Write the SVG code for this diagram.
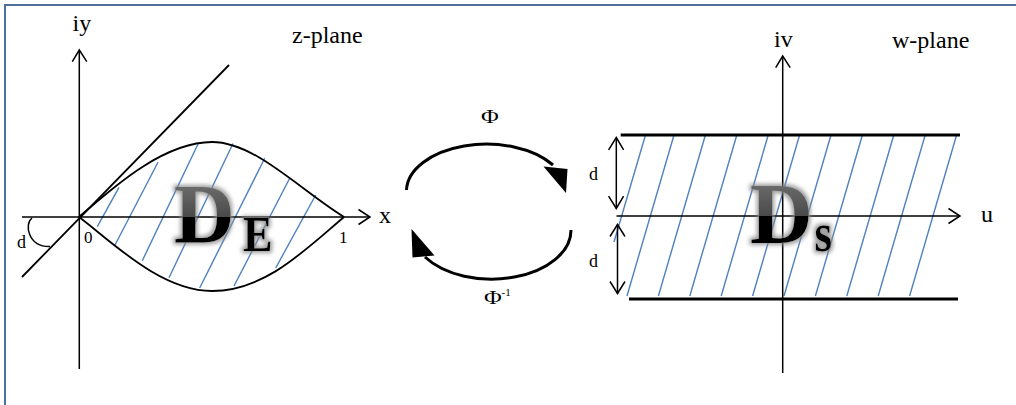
<svg xmlns="http://www.w3.org/2000/svg" width="1016" height="405" viewBox="0 0 1016 405">
<style>
  .ax { stroke:#000; stroke-width:1.5; fill:none; }
  .cv { stroke:#000; stroke-width:1.8; fill:none; }
  .st { stroke:#000; stroke-width:2.8; fill:none; }
  .ht { stroke:#4F81BD; stroke-width:1.4; fill:none; }
  .lb { font-family:"Liberation Serif","Times New Roman",serif; fill:#000; }
  .big { font-family:"Liberation Serif","Times New Roman",serif; font-weight:bold; }
  .map { stroke:#000; stroke-width:3; fill:none; }
</style>
<defs>
  <filter id="glow" x="-30%" y="-30%" width="160%" height="160%">
    <feMorphology in="SourceAlpha" operator="dilate" radius="1.5" result="d"/>
    <feGaussianBlur in="d" stdDeviation="2.2" result="b"/>
    <feFlood flood-color="#8a8a8a" flood-opacity="0.85"/>
    <feComposite in2="b" operator="in" result="g"/>
    <feMerge><feMergeNode in="g"/><feMergeNode in="SourceGraphic"/></feMerge>
  </filter>
  <linearGradient id="gE" gradientUnits="userSpaceOnUse" x1="0" y1="187" x2="0" y2="252">
    <stop offset="0" stop-color="#6a6a6a"/>
    <stop offset="0.46" stop-color="#4a4a4a"/>
    <stop offset="0.46" stop-color="#000"/>
    <stop offset="1" stop-color="#000"/>
  </linearGradient>
  <linearGradient id="gS" gradientUnits="userSpaceOnUse" x1="0" y1="185" x2="0" y2="252">
    <stop offset="0" stop-color="#6a6a6a"/>
    <stop offset="0.46" stop-color="#4a4a4a"/>
    <stop offset="0.46" stop-color="#000"/>
    <stop offset="1" stop-color="#000"/>
  </linearGradient>
</defs>

<rect x="0" y="0" width="1016" height="405" fill="#fff"/>
<path d="M5,410 L5,5 L1020,5" stroke="#4F6E9A" stroke-width="2" fill="none"/>

<g id="z-plane">
  <g>
    <line class="ht" x1="97.3" y1="226.7" x2="119" y2="187.3"/>
    <line class="ht" x1="115" y1="245" x2="158" y2="162.3"/>
    <line class="ht" x1="142.3" y1="260.7" x2="198" y2="144"/>
    <line class="ht" x1="169" y1="277.7" x2="233" y2="143.5"/>
    <line class="ht" x1="199.7" y1="288" x2="264.7" y2="158.3"/>
    <line class="ht" x1="234" y1="286" x2="289.7" y2="178.3"/>
    <line class="ht" x1="275.7" y1="268" x2="315.7" y2="195"/>
  </g>
  <line class="ax" x1="79.3" y1="369" x2="79.3" y2="50"/>
  <polyline class="ax" points="72.3,61.7 79.3,50 86.8,61.7"/>
  <line class="ax" x1="22" y1="217" x2="370" y2="217"/>
  <polyline class="ax" points="358.5,209.5 370,217 358.5,224.5"/>
  <line class="cv" x1="22" y1="277" x2="229" y2="65"/>
  <path class="cv" d="M79,217 C105,195 160,142 212,142 C255,142 300,190 344,217"/>
  <path class="cv" d="M79,217 C110,240 160,291 212,291 C265,291 305,250 344,217"/>
  <path class="ax" d="M32,218 C24,224 28,247 50,246.5"/>
  <text class="lb" x="72.5" y="31" font-size="24">iy</text>
  <text class="lb" x="292" y="43" font-size="24">z-plane</text>
  <text class="lb" x="379" y="223" font-size="24">x</text>
  <text class="lb" x="84" y="243" font-size="17">0</text>
  <text class="lb" x="339" y="243" font-size="17">1</text>
  <text class="lb" x="17" y="248" font-size="18">d</text>
  <g filter="url(#glow)" fill="url(#gE)">
    <text class="big" x="174" y="243" font-size="84">D</text>
    <text class="big" x="243" y="251" font-size="51" textLength="29.5" lengthAdjust="spacingAndGlyphs">E</text>
  </g>
</g>

<g id="w-plane">
  <g>
    <line class="ht" x1="614" y1="242" x2="645.5" y2="135"/>
    <line class="ht" x1="627" y1="296" x2="674" y2="135"/>
    <line class="ht" x1="658.4" y1="296" x2="705.4" y2="135"/>
    <line class="ht" x1="689.8" y1="296" x2="736.8" y2="135"/>
    <line class="ht" x1="721.2" y1="296" x2="768.2" y2="135"/>
    <line class="ht" x1="752.6" y1="296" x2="799.6" y2="135"/>
    <line class="ht" x1="784" y1="296" x2="831" y2="135"/>
    <line class="ht" x1="815.4" y1="296" x2="862.4" y2="135"/>
    <line class="ht" x1="846.8" y1="296" x2="893.8" y2="135"/>
    <line class="ht" x1="878.2" y1="296" x2="925.2" y2="135"/>
    <line class="ht" x1="909.6" y1="296" x2="956.6" y2="135"/>
  </g>
  <line class="st" x1="620.7" y1="135" x2="960" y2="135"/>
  <line class="st" x1="629" y1="299" x2="958" y2="299"/>
  <line class="ax" x1="616.5" y1="216" x2="960" y2="216"/>
  <polyline class="ax" points="948.5,208.5 960,216 948.5,223.5"/>
  <line class="ax" x1="782.7" y1="373" x2="782.7" y2="56"/>
  <polyline class="ax" points="775.7,67.7 782.7,56 790.2,67.7"/>
  <line class="ax" x1="616.3" y1="137.5" x2="616.3" y2="208.5"/>
  <polyline class="ax" points="608.6,149.8 616.3,137.5 623.6,149.8"/>
  <polyline class="ax" points="608.6,196.2 616.3,208.5 623.6,196.2"/>
  <line class="ax" x1="617.5" y1="224.5" x2="617.5" y2="293.5"/>
  <polyline class="ax" points="610,236.5 617.5,224.5 625,236.5"/>
  <polyline class="ax" points="610,281.5 617.5,293.5 625,281.5"/>
  <text class="lb" x="589" y="180" font-size="18">d</text>
  <text class="lb" x="589" y="267" font-size="18">d</text>
  <text class="lb" x="774" y="47" font-size="24">iv</text>
  <text class="lb" x="892" y="48" font-size="24">w-plane</text>
  <text class="lb" x="981" y="222" font-size="24">u</text>
  <g filter="url(#glow)" fill="url(#gS)">
    <text class="big" x="750" y="243.3" font-size="87">D</text>
    <text class="big" x="814.5" y="251" font-size="54" textLength="17.5" lengthAdjust="spacingAndGlyphs">s</text>
  </g>
</g>

<g id="connectors">
  <path class="map" d="M406.5,190 A80,47 0 0 1 553,165"/>
  <polygon points="543.5,166.5 567.5,169 566,193" fill="#000"/>
  <path class="map" d="M571,230 A79.5,49 0 0 1 425,257"/>
  <polygon points="411.5,229 412.5,257.5 434.5,255.5" fill="#000"/>
  <text class="lb" transform="translate(490,123) scale(1.35,1)" font-size="18" text-anchor="middle">Φ</text>
  <g transform="translate(484,304)">
    <text class="lb" transform="scale(1.35,1)" font-size="18">Φ</text>
    <text class="lb" x="17.5" y="-8" font-size="11">-1</text>
  </g>
</g>
</svg>
